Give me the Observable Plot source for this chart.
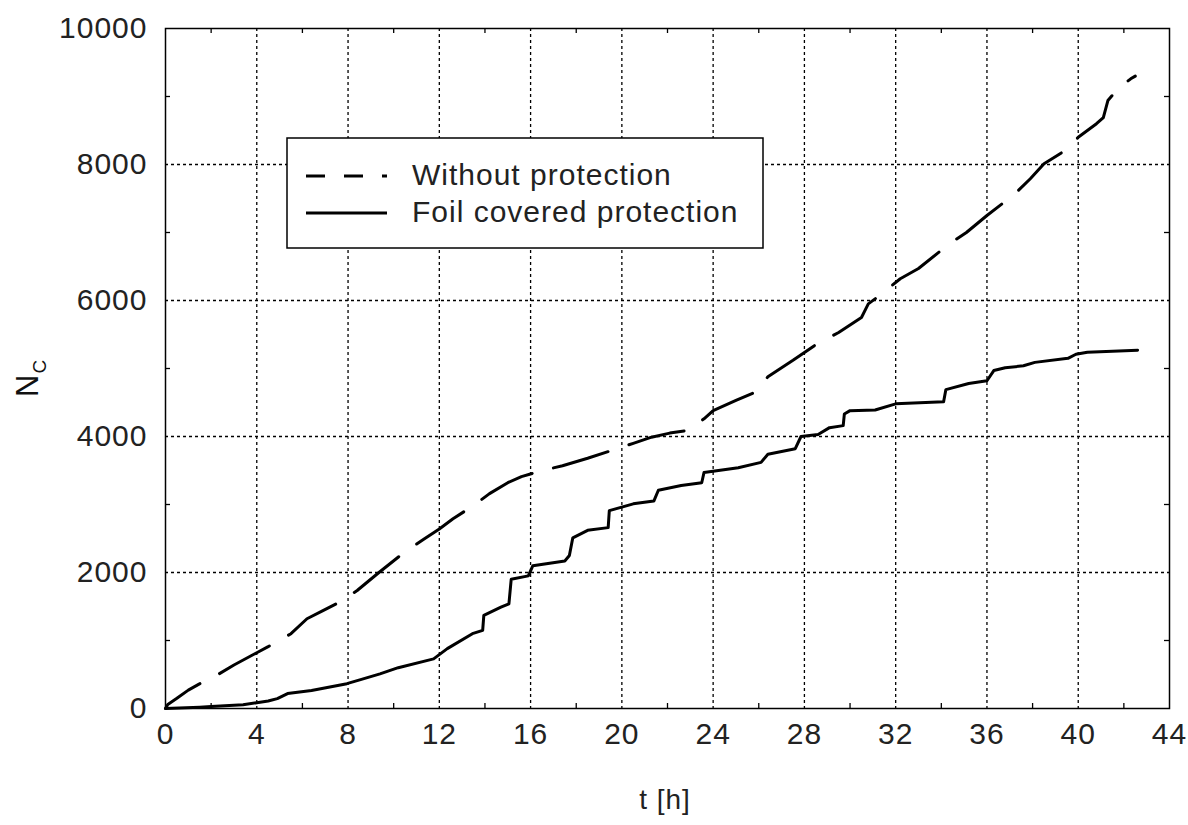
<!DOCTYPE html>
<html>
<head>
<meta charset="utf-8">
<script src="https://cdn.jsdelivr.net/npm/d3@7"></script>
<script src="https://cdn.jsdelivr.net/npm/@observablehq/plot@0.6"></script>
<style>
  html, body { margin: 0; padding: 0; background: #fff; }
  svg text { letter-spacing: 1px; }
</style>
</head>
<body>
<div id="chart"></div>
<script>
// Series: Without protection (dashed)
const tWithout = [0,0.1,0.5,1.0,1.45,2.3,3.0,4.0,4.5,5.5,6.2,6.9,7.6,8.4,9.3,10.4,11.3,12.0,12.6,13.5,14.2,15.0,15.6,16.5,17.4,18.5,19.7,20.5,21.3,22.1,22.9,23.6,24.0,25.0,25.9,26.4,27.5,28.5,29.5,30.5,30.8,31.4,32.2,33.0,34.3,35.1,36.0,37.2,37.9,38.5,39.4,40.0,40.8,41.1,41.3,41.7,42.3,42.5];
const nWithout = [0,60,150,270,355,500,640,820,910,1100,1320,1440,1560,1735,1985,2280,2485,2640,2790,2985,3160,3320,3410,3500,3570,3680,3810,3900,3990,4050,4090,4260,4380,4530,4660,4880,5120,5350,5530,5750,5950,6100,6320,6470,6820,7000,7250,7560,7790,8010,8200,8400,8600,8690,8940,9100,9260,9300];
// Series: Foil covered protection (solid)
const tFoil = [0,1.5,2,3.4,4,4.5,4.9,5.35,6.4,7.95,8.55,9.4,10.2,11.75,12.35,13.45,13.9,13.95,14.7,15.05,15.15,15.9,16.1,17.5,17.7,17.85,18.5,19.4,19.45,20.5,21.4,21.6,22.6,23.5,23.6,25.1,26.1,26.4,27.6,27.85,28.6,29.1,29.7,29.75,30.0,31.1,32.0,34.1,34.2,35.2,36.0,36.3,36.8,37.6,38.1,39.55,39.9,40.4,42.6];
const nFoil = [0,20,30,55,85,110,145,220,265,365,425,510,600,730,880,1100,1150,1370,1490,1540,1900,1950,2100,2170,2250,2510,2620,2660,2910,3010,3050,3210,3280,3320,3470,3540,3620,3740,3820,4000,4030,4130,4160,4330,4380,4390,4480,4510,4690,4780,4820,4970,5010,5040,5090,5150,5210,5240,5270];

const xTicks = [0,4,8,12,16,20,24,28,32,36,40,44];
const yTicks = [0,2000,4000,6000,8000,10000];
const xMinor = [2,6,10,14,18,22,26,30,34,38,42];
const yMinor = [1000,3000,5000,7000,9000];
const seriesNames = ["Without protection", "Foil covered protection"];
const xTitle = "t [h]";

const dataWithout = tWithout.map((t, i) => ({t, n: nWithout[i]}));
const dataFoil = tFoil.map((t, i) => ({t, n: nFoil[i]}));

const W = 1188, H = 825, mL = 165, mR = 19, mT = 28, mB = 117;
const innerW = W - mL - mR, innerH = H - mT - mB;
const gridStyle = {stroke: "#000", strokeOpacity: 1, strokeDasharray: "3,3", strokeWidth: 1.3};

const chart = Plot.plot({
  width: W, height: H,
  marginLeft: mL, marginRight: mR, marginTop: mT, marginBottom: mB,
  x: {domain: [0, 44]},
  y: {domain: [0, 10000]},
  style: {fontFamily: "'Liberation Sans', Arial, sans-serif", fontSize: "30px", color: "#222", background: "#fff", overflow: "visible"},
  marks: [
    Plot.gridX(xTicks.slice(1, -1), gridStyle),
    Plot.gridY(yTicks.slice(1, -1), gridStyle),
    Plot.ruleX(xMinor, {stroke: "#000", strokeWidth: 1.3, insetTop: innerH - 5}),
    Plot.ruleX(xMinor, {stroke: "#000", strokeWidth: 1.3, insetBottom: innerH - 5}),
    Plot.ruleY(yMinor, {stroke: "#000", strokeWidth: 1.3, insetRight: innerW - 5}),
    Plot.ruleY(yMinor, {stroke: "#000", strokeWidth: 1.3, insetLeft: innerW - 5}),
    Plot.axisX(xTicks, {tickSize: 0, tickPadding: 14, label: null, fontSize: 30, tickFormat: d3.format("d")}),
    Plot.axisY(yTicks, {tickSize: 0, tickPadding: 18, label: null, fontSize: 30, tickFormat: d3.format("d")}),
    Plot.line(dataWithout, {x: "t", y: "n", stroke: "#000", strokeWidth: 3, strokeDasharray: "57,22", strokeDashoffset: 14}),
    Plot.line(dataFoil, {x: "t", y: "n", stroke: "#000", strokeWidth: 3}),
    Plot.frame({stroke: "#000", strokeWidth: 1.5})
  ]
});

const svg = d3.select(chart);
// Axis titles
svg.append("text")
  .attr("x", 665).attr("y", 809)
  .attr("text-anchor", "middle")
  .attr("font-size", 28).attr("fill", "#222")
  .text(xTitle);
const yt = svg.append("text")
  .attr("transform", "translate(38,397) rotate(-90)")
  .attr("text-anchor", "start")
  .attr("font-size", 31).attr("fill", "#111");
yt.append("tspan").text("N");
yt.append("tspan").attr("font-size", 19).attr("dy", 8).text("C");

// Legend
const lg = svg.append("g");
lg.append("rect").attr("x", 287).attr("y", 138).attr("width", 476).attr("height", 110)
  .attr("fill", "#fff").attr("stroke", "#000").attr("stroke-width", 1.5);
lg.append("line").attr("x1", 306).attr("x2", 387).attr("y1", 176).attr("y2", 176)
  .attr("stroke", "#000").attr("stroke-width", 3).attr("stroke-dasharray", "19,19");
lg.append("line").attr("x1", 306).attr("x2", 387).attr("y1", 213).attr("y2", 213)
  .attr("stroke", "#000").attr("stroke-width", 3);
seriesNames.forEach((name, i) => {
  lg.append("text").attr("x", 412).attr("y", 185 + i * 37)
    .attr("text-anchor", "start")
    .attr("font-size", 30).attr("fill", "#222").text(name);
});

document.getElementById("chart").appendChild(chart);
</script>
</body>
</html>
